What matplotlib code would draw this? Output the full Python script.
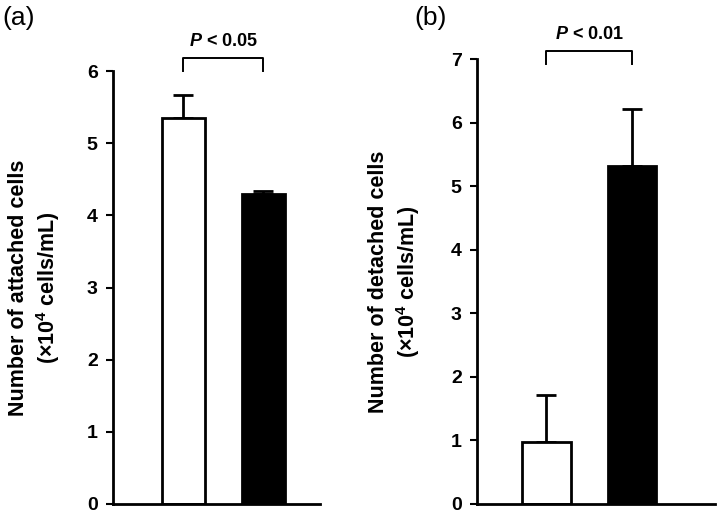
import matplotlib
matplotlib.use("Agg")
import matplotlib.pyplot as plt

plt.rcParams['font.family'] = ['Liberation Sans', 'DejaVu Sans']
plt.rcParams['mathtext.fontset'] = 'custom'
plt.rcParams['mathtext.bfit'] = 'Liberation Sans:italic:bold'
plt.rcParams['mathtext.rm'] = 'Liberation Sans:bold'

groups = ["Control", "Treated"]
attached_mean = [5.35, 4.29]
attached_err = [0.32, 0.05]
detached_mean = [0.97, 5.31]
detached_err = [0.74, 0.91]
bar_colors = ["white", "black"]
a_yticks = [0, 1, 2, 3, 4, 5, 6]
b_yticks = [0, 1, 2, 3, 4, 5, 6, 7]
a_ptext = r"$\mathbfit{P}$ < 0.05"
b_ptext = r"$\mathbfit{P}$ < 0.01"

fig = plt.figure(figsize=(7.2, 5.15), dpi=100)
W, H = 720, 515

def make_ax(left, right, top, bottom):
    return fig.add_axes([left / W, 1 - bottom / H, (right - left) / W, (bottom - top) / H])

ax1 = make_ax(113, 320, 71, 504)
ax2 = make_ax(477, 715, 59, 504)

def style(ax, ticks, ylabel, label_x_px, ax_left_px, ax_w_px):
    for s in ["top", "right"]:
        ax.spines[s].set_visible(False)
    for s in ["left", "bottom"]:
        ax.spines[s].set_linewidth(2)
    ax.set_xticks([])
    ax.set_yticks(ticks)
    ax.set_ylim(ticks[0], ticks[-1])
    ax.tick_params(axis='y', direction='out', length=5, width=1.5, labelsize=14, pad=6)
    for lab in ax.get_yticklabels():
        lab.set_fontweight('bold')
    ax.set_ylabel(ylabel, fontsize=15.5, fontweight='bold', linespacing=1.25, va='center')
    ax.yaxis.set_label_coords((label_x_px - ax_left_px) / ax_w_px, 0.5)

def draw(ax, means, errs, width, xlim):
    x = list(range(len(means)))
    ax.bar(x, means, width=width, color=bar_colors, edgecolor='black', linewidth=2, zorder=2)
    ax.errorbar(x, means, yerr=[[0] * len(errs), errs], fmt='none', ecolor='black',
                elinewidth=2, capsize=7, capthick=2, zorder=1)
    ax.set_xlim(*xlim)

def bracket(ax, y0, y1, text, ty):
    ax.plot([0, 0, 1, 1], [y0, y1, y1, y0], color='black', lw=1.4, clip_on=False)
    ax.text(0.5, ty, text, ha='center', va='center', fontsize=13, fontweight='bold', clip_on=False)

draw(ax1, attached_mean, attached_err, 0.54, (-0.88, 1.71))
style(ax1, a_yticks, "Number of attached cells\n(×10$^{4}$ cells/mL)", 35, 113, 207)
bracket(ax1, 6.0, 6.18, a_ptext, 6.41)

draw(ax2, detached_mean, detached_err, 0.57, (-0.81, 1.97))
style(ax2, b_yticks, "Number of detached cells\n(×10$^{4}$ cells/mL)", 395, 477, 238)
bracket(ax2, 6.92, 7.12, b_ptext, 7.38)

fig.text(2 / W, 1 - 18 / H, "(a)", fontsize=19, va='center', ha='left')
fig.text(414 / W, 1 - 18 / H, "(b)", fontsize=19, va='center', ha='left')

fig.savefig("out.png", dpi=100)
